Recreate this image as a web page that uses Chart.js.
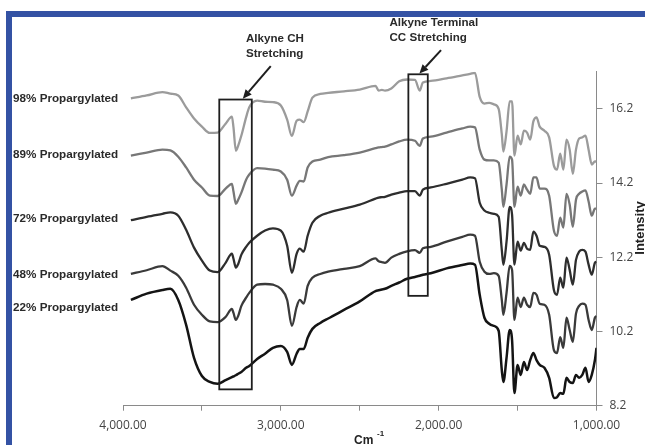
<!DOCTYPE html>
<html>
<head>
<meta charset="utf-8">
<script src="https://cdn.jsdelivr.net/npm/chart.js@4.4.1/dist/chart.umd.min.js"></script>
<style>
  html, body { margin: 0; padding: 0; background: #fff; overflow: hidden; }
  #wrap { position: relative; width: 645px; height: 445px; }
  #frame { position: absolute; left: 6px; top: 11px; width: 700px; height: 500px;
           border-top: 6px solid #3452a4; border-left: 6px solid #3452a4; }
  #chart { position: absolute; left: 0; top: 0; }
</style>
</head>
<body>
<div id="wrap">
  <div id="frame"></div>
  <canvas id="chart" width="645" height="445"></canvas>
</div>
<script>
// ---- data ----
const wavenumbers = [
  3950, 3850, 3750, 3700, 3650, 3600, 3550, 3500, 3450, 3400,
  3350, 3310, 3300, 3285, 3270, 3250, 3220, 3200, 3150, 3100,
  3050, 3000, 2960, 2930, 2900, 2880, 2855, 2830, 2800, 2750,
  2700, 2600, 2500, 2400, 2380, 2360, 2340, 2300, 2250, 2200,
  2150, 2120, 2100, 2050, 1950, 1850, 1800, 1770, 1740, 1710,
  1680, 1650, 1620, 1600, 1590, 1570, 1550, 1535, 1520, 1500,
  1480, 1460, 1440, 1420, 1400, 1380, 1360, 1330, 1300, 1270,
  1250, 1230, 1210, 1190, 1170, 1150, 1130, 1110, 1090, 1070,
  1050, 1030, 1010, 1000
];

const p98 = [
  16.48, 16.56, 16.65, 16.61, 16.56, 16.24, 15.94, 15.72, 15.55, 15.56,
  15.80, 15.99, 15.70, 15.07, 15.21, 15.48, 15.97, 16.24, 16.42, 16.39,
  16.38, 16.29, 15.91, 15.47, 15.88, 15.91, 15.84, 16.13, 16.50, 16.60,
  16.63, 16.67, 16.72, 16.82, 16.69, 16.71, 16.69, 16.75, 16.94, 16.99,
  16.98, 16.69, 16.91, 16.95, 17.02, 17.10, 17.14, 17.17, 16.52, 16.34,
  16.36, 16.32, 16.20, 15.51, 15.05, 15.59, 16.40, 16.40, 14.94, 15.48,
  15.24, 15.61, 15.56, 15.37, 15.86, 15.97, 15.72, 15.61, 15.43, 14.67,
  14.56, 14.99, 14.56, 15.37, 15.10, 14.45, 15.10, 15.40, 15.43, 15.48,
  15.10, 14.70, 14.78, 14.78
];

const p89 = [
  14.94, 15.02, 15.10, 15.08, 14.91, 14.62, 14.29, 14.08, 13.86, 13.85,
  14.05, 14.18, 13.97, 13.64, 13.75, 13.94, 14.29, 14.43, 14.60, 14.59,
  14.56, 14.51, 14.29, 13.86, 14.13, 14.26, 14.24, 14.62, 14.78, 14.83,
  14.90, 14.95, 15.02, 15.14, 15.16, 15.17, 15.18, 15.24, 15.32, 15.37,
  15.34, 15.20, 15.40, 15.45, 15.56, 15.67, 15.72, 15.70, 15.10, 14.83,
  14.81, 14.81, 14.75, 14.02, 13.56, 14.16, 14.91, 14.83, 13.56, 14.10,
  13.86, 14.16, 14.02, 13.91, 14.35, 14.35, 14.05, 14.05, 13.86, 12.92,
  12.78, 13.27, 13.00, 13.91, 13.62, 13.02, 13.75, 13.91, 13.97, 14.00,
  13.70, 13.32, 13.51, 13.51
];

const p72 = [
  13.20, 13.29, 13.37, 13.41, 13.32, 12.94, 12.46, 12.11, 11.84, 11.80,
  12.05, 12.30, 12.16, 11.92, 12.02, 12.27, 12.48, 12.59, 12.78, 12.92,
  12.98, 12.92, 12.51, 11.78, 12.29, 12.43, 12.35, 12.78, 13.13, 13.32,
  13.40, 13.51, 13.62, 13.78, 13.81, 13.82, 13.83, 13.89, 13.94, 13.98,
  13.98, 13.86, 14.02, 14.08, 14.18, 14.29, 14.35, 14.33, 13.67, 13.46,
  13.40, 13.37, 13.29, 12.40, 12.00, 12.62, 13.56, 13.35, 12.00, 12.62,
  12.38, 12.59, 12.43, 12.40, 12.89, 12.78, 12.51, 12.48, 12.27, 11.32,
  11.19, 11.65, 11.38, 12.19, 11.86, 11.46, 12.13, 12.35, 12.40, 12.35,
  12.00, 11.73, 12.05, 12.08
];

const p48 = [
  11.75, 11.85, 11.96, 11.84, 11.70, 11.38, 10.92, 10.65, 10.47, 10.45,
  10.59, 10.81, 10.70, 10.51, 10.62, 10.89, 11.11, 11.24, 11.46, 11.48,
  11.46, 11.35, 11.05, 10.35, 10.86, 11.05, 10.95, 11.43, 11.65, 11.75,
  11.81, 11.89, 11.96, 12.17, 12.09, 12.07, 12.05, 12.19, 12.29, 12.36,
  12.39, 12.32, 12.44, 12.48, 12.62, 12.75, 12.81, 12.78, 12.08, 11.81,
  11.75, 11.77, 11.70, 11.05, 10.65, 11.24, 11.97, 11.86, 10.51, 11.11,
  10.86, 11.11, 10.92, 10.86, 11.24, 11.19, 10.95, 10.92, 10.65, 9.70,
  9.62, 10.05, 9.76, 10.57, 10.24, 9.92, 10.68, 10.89, 10.95, 10.92,
  10.51, 10.24, 10.57, 10.62
];

const p22 = [
  11.05, 11.22, 11.32, 11.35, 11.05, 10.38, 9.49, 9.00, 8.84, 8.79,
  8.89, 8.97, 8.99, 9.02, 9.06, 9.11, 9.22, 9.27, 9.46, 9.60,
  9.76, 9.81, 9.65, 9.30, 9.60, 9.73, 9.73, 10.03, 10.27, 10.43,
  10.55, 10.78, 11.01, 11.29, 11.31, 11.33, 11.35, 11.43, 11.52, 11.62,
  11.67, 11.70, 11.73, 11.77, 11.90, 11.99, 12.03, 12.00, 11.19, 10.57,
  10.41, 10.35, 10.22, 9.16, 8.84, 9.49, 10.24, 9.97, 8.54, 9.30,
  9.03, 9.38, 9.16, 9.43, 9.62, 9.43, 9.30, 9.22, 8.95, 8.41,
  8.43, 8.54, 8.52, 8.95, 8.84, 8.81, 9.03, 8.95, 9.03, 9.22,
  8.84, 9.03, 9.43, 9.76
];

const seriesNames = ['98% Propargylated', '89% Propargylated', '72% Propargylated',
                     '48% Propargylated', '22% Propargylated'];
const xTicks = [4000, 3500, 3000, 2500, 2000, 1500, 1000];
const yTicks = [8.2, 10.2, 12.2, 14.2, 16.2];

// ---- styling / layout ----
const lineColors = ['#9b9b9b', '#777777', '#2e2e2e', '#3a3a3a', '#141414'];
const labelY = [98.3, 154.7, 218.3, 275, 307.3];

// highlight boxes and arrows, in data units
const boxes = [
  { from: 3390, to: 3184, top: 16.45, bottom: 8.64 },
  { from: 2192, to: 2069, top: 17.13, bottom: 11.16 }
];
const arrows = [
  { x1: 3064, y1: 17.35, x2: 3241, y2: 16.47 },
  { x1: 1985, y1: 17.78, x2: 2122, y2: 17.15 }
];
const notes = [
  { lines: ['Alkyne CH', 'Stretching'], x: 246, y: 38.3 },
  { lines: ['Alkyne Terminal', 'CC Stretching'], x: 389.5, y: 22.7 }
];

function drawArrow(ctx, x1, y1, x2, y2) {
  const ang = Math.atan2(y2 - y1, x2 - x1);
  const head = 9, half = 4;
  const bx = x2 - head * Math.cos(ang), by = y2 - head * Math.sin(ang);
  ctx.beginPath();
  ctx.moveTo(x1, y1);
  ctx.lineTo(bx, by);
  ctx.stroke();
  ctx.beginPath();
  ctx.moveTo(x2, y2);
  ctx.lineTo(bx + half * Math.sin(ang), by - half * Math.cos(ang));
  ctx.lineTo(bx - half * Math.sin(ang), by + half * Math.cos(ang));
  ctx.closePath();
  ctx.fill();
}

const annotations = {
  id: 'annotations',
  afterDatasetsDraw(chart) {
    const { ctx, scales: { x, y } } = chart;
    ctx.save();

    // series names on the left
    ctx.font = 'bold 11.7px "Liberation Sans", Arial, sans-serif';
    ctx.fillStyle = '#2a2a2a';
    ctx.textAlign = 'left';
    ctx.textBaseline = 'middle';
    seriesNames.forEach((name, i) => ctx.fillText(name, 13, labelY[i]));

    // boxes
    ctx.strokeStyle = '#1e1e1e';
    ctx.lineWidth = 1.8;
    boxes.forEach(b => {
      const x1 = x.getPixelForValue(b.from), x2 = x.getPixelForValue(b.to);
      const y1 = y.getPixelForValue(b.top), y2 = y.getPixelForValue(b.bottom);
      ctx.strokeRect(x1, y1, x2 - x1, y2 - y1);
    });

    // arrows
    ctx.fillStyle = '#1e1e1e';
    ctx.lineWidth = 2;
    arrows.forEach(a => drawArrow(ctx,
      x.getPixelForValue(a.x1), y.getPixelForValue(a.y1),
      x.getPixelForValue(a.x2), y.getPixelForValue(a.y2)));

    // notes
    ctx.font = 'bold 11.6px "Liberation Sans", Arial, sans-serif';
    ctx.fillStyle = '#2a2a2a';
    notes.forEach(n => n.lines.forEach((t, i) => ctx.fillText(t, n.x, n.y + i * 15.2)));

    // axis titles
    ctx.font = 'bold 12px "Liberation Sans", Arial, sans-serif';
    ctx.fillStyle = '#222';
    ctx.fillText('Cm', 354, 441);
    ctx.font = 'bold 8px "Liberation Sans", Arial, sans-serif';
    ctx.fillText('-1', 377, 434);

    ctx.translate(640.5, 228);
    ctx.rotate(-Math.PI / 2);
    ctx.textAlign = 'center';
    ctx.font = 'bold 13px "Liberation Sans", Arial, sans-serif';
    ctx.fillStyle = '#222';
    ctx.fillText('Intensity', 0, 0);

    ctx.restore();
  }
};

const datasets = [p98, p89, p72, p48, p22].map((vals, i) => ({
  label: seriesNames[i],
  data: wavenumbers.map((w, j) => ({ x: w, y: vals[j] })),
  borderColor: lineColors[i],
  borderWidth: i === 4 ? 2.5 : 2.3,
  pointRadius: 0,
  cubicInterpolationMode: 'monotone',
  fill: false
}));

const tickFont = { family: '"Open Sans", "Liberation Sans", sans-serif', size: 12 };

new Chart(document.getElementById('chart'), {
  type: 'line',
  data: { datasets },
  options: {
    responsive: false,
    animation: false,
    events: [],
    layout: { padding: { left: 123, top: 71.7, right: 0, bottom: 0 } },
    plugins: { legend: { display: false }, tooltip: { enabled: false } },
    scales: {
      x: {
        type: 'linear',
        reverse: true,
        min: 1000,
        max: 4000,
        afterBuildTicks: s => { s.ticks = xTicks.map(v => ({ value: v })); },
        afterFit: s => { s.height = 39.3; },
        border: { display: true, color: '#8a8a8a', width: 1 },
        grid: { drawOnChartArea: false, drawTicks: true, tickLength: 5, color: '#8a8a8a' },
        ticks: {
          autoSkip: false,
          maxRotation: 0,
          padding: 8,
          color: '#444',
          font: tickFont,
          callback: v => v % 1000 === 0 ? (v / 1000) + ',000.00' : ''
        }
      },
      y: {
        position: 'right',
        min: 8.2,
        max: 17.2,
        afterBuildTicks: s => { s.ticks = yTicks.map(v => ({ value: v })); },
        afterFit: s => { s.width = 48.5; },
        border: { display: true, color: '#8a8a8a', width: 1 },
        grid: { drawOnChartArea: false, drawTicks: true, tickLength: 6, color: '#8a8a8a' },
        ticks: {
          padding: 7,
          color: '#444',
          font: tickFont,
          callback: v => v.toFixed(1)
        }
      }
    }
  },
  plugins: [annotations]
});
</script>
</body>
</html>
